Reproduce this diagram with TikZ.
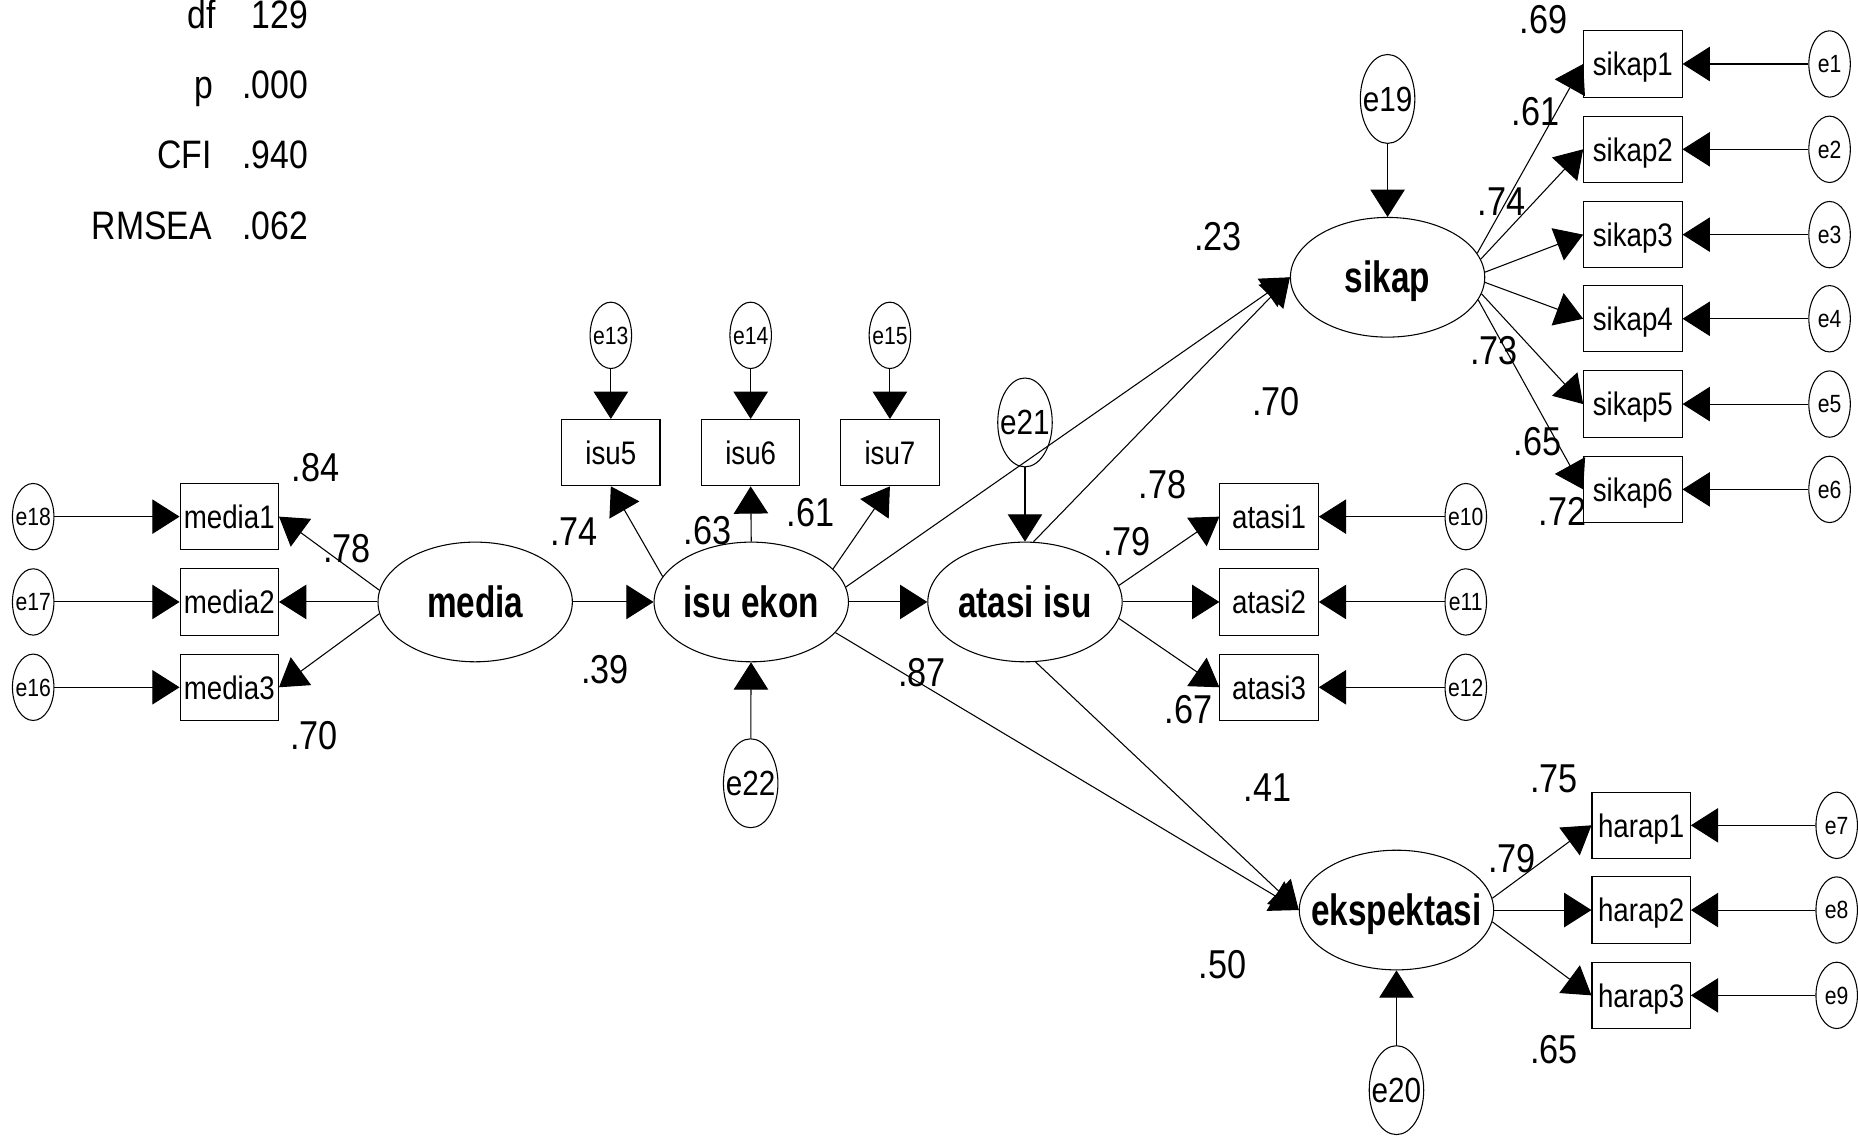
\documentclass[tikz,border=0pt]{standalone}
\usepackage{fontspec}
\setmainfont{Liberation Sans}[FakeStretch=0.85]
\newfontfamily\latfont{Liberation Sans}[FakeStretch=0.76]
\usetikzlibrary{arrows.meta,shapes.geometric}
\newcommand\zb[1]{\makebox[0pt]{#1}}
\tikzset{
  lat/.style={ellipse, draw, line width=0.9pt, minimum width=164pt, minimum height=101pt, inner sep=0pt, text height=26.5pt, text depth=0pt, font=\latfont\fontsize{37}{42}\selectfont\bfseries},
  ind/.style={rectangle, draw, line width=0.9pt, minimum width=83pt, minimum height=56pt, inner sep=0pt, text height=20pt, text depth=0pt, font=\fontsize{27.5}{32}\selectfont},
  err/.style={ellipse, draw, line width=0.9pt, minimum width=35pt, minimum height=56pt, inner sep=0pt, text height=15pt, text depth=0pt, font=\fontsize{21}{24}\selectfont},
  errbig/.style={ellipse, draw, line width=0.9pt, minimum width=46pt, minimum height=75pt, inner sep=0pt, text height=21pt, text depth=0pt, font=\fontsize{29.5}{34}\selectfont},
  coef/.style={inner sep=0pt, font=\fontsize{34}{40}\selectfont},
  fit/.style={inner sep=0pt, font=\fontsize{33.5}{40}\selectfont},
  arr/.style={-{Triangle[length=23pt,width=29pt]}, line width=0.9pt},
}
\begin{document}
\begin{tikzpicture}[x=1pt,y=-1pt]
\fill[white] (0,0) rectangle (1568,958);
\useasboundingbox (0,0) rectangle (1568,958);

% fit statistics
\node[fit, anchor=base east] (l1) at (182,24) {df};
\node[fit, anchor=base east] (v1) at (260,24) {129};
\node[fit, anchor=base east] (l2) at (180,83) {p};
\node[fit, anchor=base east] (v2) at (260,83) {.000};
\node[fit, anchor=base east] (l3) at (179,142) {CFI};
\node[fit, anchor=base east] (v3) at (260,142) {.940};
\node[fit, anchor=base east] (l4) at (179,202) {RMSEA};
\node[fit, anchor=base east] (v4) at (260,202) {.062};

% latent variables
\node[lat] (media) at (401,508) {media};
\node[lat] (isuekon) at (634,508) {isu ekon};
\node[lat] (atasi) at (865,508) {atasi isu};
\node[lat] (sikap) at (1171,234) {sikap};
\node[lat] (eksp) at (1178.5,768) {\zb{ekspektasi}};

% media indicators
\node[ind] (media1) at (193.5,436) {media1};
\node[ind] (media2) at (193.5,508) {media2};
\node[ind] (media3) at (193.5,580) {media3};
\node[err] (e18) at (28,436) {\zb{e18}};
\node[err] (e17) at (28,508) {\zb{e17}};
\node[err] (e16) at (28,580) {\zb{e16}};

% isu indicators
\node[ind] (isu5) at (515.5,382) {isu5};
\node[ind] (isu6) at (633.5,382) {isu6};
\node[ind] (isu7) at (751,382) {isu7};
\node[err] (e13) at (515.5,283) {\zb{e13}};
\node[err] (e14) at (633.5,283) {\zb{e14}};
\node[err] (e15) at (751,283) {\zb{e15}};

% disturbances
\node[errbig] (e21) at (865,356.5) {\zb{e21}};
\node[errbig] (e22) at (633.5,661) {\zb{e22}};
\node[errbig] (e19) at (1171,83.5) {\zb{e19}};
\node[errbig] (e20) at (1178.5,920) {\zb{e20}};

% atasi indicators
\node[ind] (atasi1) at (1071,436) {atasi1};
\node[ind] (atasi2) at (1071,508) {atasi2};
\node[ind] (atasi3) at (1071,580) {atasi3};
\node[err] (e10) at (1237,436) {\zb{e10}};
\node[err] (e11) at (1237,508) {\zb{e11}};
\node[err] (e12) at (1237,580) {\zb{e12}};

% sikap indicators
\node[ind] (sikap1) at (1378,54) {sikap1};
\node[ind] (sikap2) at (1378,126) {sikap2};
\node[ind] (sikap3) at (1378,198) {sikap3};
\node[ind] (sikap4) at (1378,269) {sikap4};
\node[ind] (sikap5) at (1378,341) {sikap5};
\node[ind] (sikap6) at (1378,413) {sikap6};
\node[err] (e1) at (1544,54) {\zb{e1}};
\node[err] (e2) at (1544,126) {\zb{e2}};
\node[err] (e3) at (1544,198) {\zb{e3}};
\node[err] (e4) at (1544,269) {\zb{e4}};
\node[err] (e5) at (1544,341) {\zb{e5}};
\node[err] (e6) at (1544,413) {\zb{e6}};

% harap indicators
\node[ind] (harap1) at (1385,696.5) {harap1};
\node[ind] (harap2) at (1385,768) {harap2};
\node[ind] (harap3) at (1385,840) {harap3};
\node[err] (e7) at (1550,696.5) {\zb{e7}};
\node[err] (e8) at (1550,768) {\zb{e8}};
\node[err] (e9) at (1550,840) {\zb{e9}};

% error arrows
\foreach \e/\t in {e18/media1,e17/media2,e16/media3,e13/isu5,e14/isu6,e15/isu7,
  e10/atasi1,e11/atasi2,e12/atasi3,e1/sikap1,e2/sikap2,e3/sikap3,e4/sikap4,e5/sikap5,e6/sikap6,
  e7/harap1,e8/harap2,e9/harap3,e21/atasi,e22/isuekon,e19/sikap,e20/eksp}
  \draw[arr] (\e) -- (\t);

% loadings
\draw[arr] (media.173) -- (media1.east);
\draw[arr] (media.west) -- (media2.east);
\draw[arr] (media.187) -- (media3.east);
\draw[arr] (isuekon.164) -- (isu5.south);
\draw[arr] (isuekon.north) -- (isu6.south);
\draw[arr] (isuekon.22) -- (isu7.south);
\draw[arr] (atasi.10) -- (atasi1.west);
\draw[arr] (atasi.east) -- (atasi2.west);
\draw[arr] (atasi.-10) -- (atasi3.west);
\draw[arr] (sikap.15) -- (sikap1.west);
\draw[arr] (sikap.11) -- (sikap2.west);
\draw[arr] (sikap.3) -- (sikap3.west);
\draw[arr] (sikap.-3) -- (sikap4.west);
\draw[arr] (sikap.-10) -- (sikap5.west);
\draw[arr] (sikap.-14) -- (sikap6.west);
\draw[arr] (eksp.7) -- (harap1.west);
\draw[arr] (eksp.east) -- (harap2.west);
\draw[arr] (eksp.-7) -- (harap3.west);

% structural paths
\draw[arr] (media.east) -- (isuekon.west);
\draw[arr] (isuekon.east) -- (atasi.west);
\draw[arr] (isuekon.9) -- (sikap.west);
\draw[arr] (atasi.82) -- (sikap.west);
\draw[arr] (isuekon.-20) -- (eksp.west);
\draw[arr] (atasi.-80) -- (eksp.west);

% coefficients
\node[coef] (c1) at (266.5,394.6) {.84};
\node[coef] (c2) at (293,463) {.78};
\node[coef] (c3) at (265,621) {.70};
\node[coef] (c4) at (484.5,449) {.74};
\node[coef] (c5) at (510.6,565) {.39};
\node[coef] (c6) at (597,448) {.63};
\node[coef] (c7) at (684,432.5) {.61};
\node[coef] (c8) at (778,567.5) {.87};
\node[coef] (c9) at (1028,200) {.23};
\node[coef] (c10) at (1077,339) {.70};
\node[coef] (c11) at (981,409) {.78};
\node[coef] (c12) at (951,457) {.79};
\node[coef] (c13) at (1003,598.6) {.67};
\node[coef] (c14) at (1069.6,664.7) {.41};
\node[coef] (c15) at (1031.5,813.7) {.50};
\node[coef] (c16) at (1302.5,16.7) {.69};
\node[coef] (c17) at (1296,94.5) {.61};
\node[coef] (c18) at (1267,170) {.74};
\node[coef] (c19) at (1261,296) {.73};
\node[coef] (c20) at (1297.6,373) {.65};
\node[coef] (c21) at (1318.6,431.6) {.72};
\node[coef] (c22) at (1311.5,657) {.75};
\node[coef] (c23) at (1276,725) {.79};
\node[coef] (c24) at (1311.5,886) {.65};
\end{tikzpicture}
\end{document}
